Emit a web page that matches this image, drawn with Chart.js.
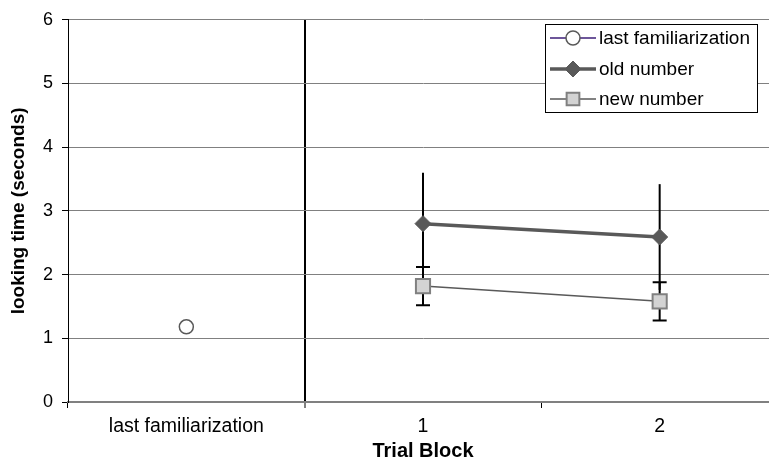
<!DOCTYPE html>
<html>
<head>
<meta charset="utf-8">
<script src="https://cdn.jsdelivr.net/npm/chart.js@4"></script>
<style>
  html, body { margin: 0; padding: 0; background: #fff; overflow: hidden; }
  #wrap { width: 790px; height: 461px; }
</style>
</head>
<body>
<div id="wrap"><canvas id="chart"></canvas></div>
<script>
const categories = ['last familiarization', '1', '2'];
const familiarization = [1.18, null, null];
const oldNumber = [null, 2.80, 2.59];
const oldNumberErr = [null, 0.80, 0.83];
const newNumber = [null, 1.82, 1.58];
const newNumberErr = [null, 0.30, 0.30];
const yTicks = [0, 1, 2, 3, 4, 5, 6];

const FONT = "'Liberation Sans', Arial, sans-serif";

// error bars, drawn under the markers
const errorBars = {
    id: 'errorBars',
    beforeDatasetsDraw(chart) {
        const ctx = chart.ctx;
        const x = chart.scales.x, y = chart.scales.y;
        const sets = [
            {values: oldNumber, errs: oldNumberErr, cap: 0},
            {values: newNumber, errs: newNumberErr, cap: 7}
        ];
        ctx.save();
        ctx.strokeStyle = '#000';
        ctx.lineWidth = 2;
        sets.forEach(s => {
            s.values.forEach((v, i) => {
                if (v == null) return;
                const px = x.getPixelForValue(i);
                const top = y.getPixelForValue(v + s.errs[i]);
                const bot = y.getPixelForValue(v - s.errs[i]);
                ctx.beginPath();
                ctx.moveTo(px, top);
                ctx.lineTo(px, bot);
                if (s.cap) {
                    ctx.moveTo(px - s.cap, top);
                    ctx.lineTo(px + s.cap, top);
                    ctx.moveTo(px - s.cap, bot);
                    ctx.lineTo(px + s.cap, bot);
                }
                ctx.stroke();
            });
        });
        ctx.restore();
    }
};

// boxed legend inside the plot area
const boxLegend = {
    id: 'boxLegend',
    afterDraw(chart) {
        const ctx = chart.ctx;
        const bx = 545, by = 24, bw = 212, bh = 88;
        ctx.save();
        ctx.fillStyle = '#fff';
        ctx.fillRect(bx, by, bw, bh);
        ctx.strokeStyle = '#000';
        ctx.lineWidth = 1;
        ctx.strokeRect(bx + 0.5, by + 0.5, bw, bh);
        ctx.font = '19px ' + FONT;
        ctx.textBaseline = 'middle';
        const rows = [38, 69, 99];
        chart.data.datasets.forEach((ds, i) => {
            const ly = rows[i];
            ctx.strokeStyle = ds.legendLine || ds.borderColor;
            ctx.lineWidth = ds.borderWidth;
            ctx.beginPath();
            ctx.moveTo(550, ly);
            ctx.lineTo(596, ly);
            ctx.stroke();
            ctx.fillStyle = ds.pointBackgroundColor;
            ctx.strokeStyle = ds.pointBorderColor;
            ctx.lineWidth = ds.pointBorderWidth;
            Chart.helpers.drawPoint(ctx, {
                pointStyle: ds.pointStyle,
                radius: ds.legendRadius || ds.pointRadius,
                borderWidth: ds.pointBorderWidth
            }, 573, ly);
            ctx.fillStyle = '#000';
            ctx.fillText(ds.label, 599, ly + 1);
        });
        ctx.restore();
    }
};

new Chart(document.getElementById('chart'), {
    type: 'line',
    data: {
        labels: categories,
        datasets: [
            {
                label: 'last familiarization',
                data: familiarization,
                borderColor: '#595959',
                legendLine: '#3c1e78',
                borderWidth: 1.5,
                pointStyle: 'circle',
                pointRadius: 7,
                pointBorderWidth: 1.5,
                pointBackgroundColor: '#fff',
                pointBorderColor: '#595959'
            },
            {
                label: 'old number',
                data: oldNumber,
                borderColor: '#595959',
                borderWidth: 3.5,
                pointStyle: 'rectRot',
                pointRadius: 8,
                pointBorderWidth: 1,
                pointBackgroundColor: '#595959',
                pointBorderColor: '#595959'
            },
            {
                label: 'new number',
                data: newNumber,
                borderColor: '#595959',
                borderWidth: 1.5,
                pointStyle: 'rect',
                pointRadius: 10,
                legendRadius: 9,
                pointBorderWidth: 2,
                pointBackgroundColor: '#d3d3d3',
                pointBorderColor: '#808080'
            }
        ]
    },
    options: {
        responsive: true,
        maintainAspectRatio: false,
        animation: false,
        layout: {padding: {top: 18, right: 10, left: 0, bottom: 0}},
        plugins: {
            legend: {display: false},
            tooltip: {enabled: false}
        },
        scales: {
            x: {
                offset: true,
                afterFit: s => { s.height = 59; },
                grid: {
                    offset: true,
                    color: c => c.index === 1 ? '#000' : 'rgba(0,0,0,0)',
                    lineWidth: c => c.index === 1 ? 2 : 1,
                    tickColor: '#000',
                    tickLength: 6,
                    tickWidth: 1
                },
                border: {color: '#808080', width: 2},
                ticks: {color: '#000', font: {family: FONT, size: 19.5}, padding: 7, maxRotation: 0},
                title: {display: true, text: 'Trial Block', color: '#000',
                    font: {family: FONT, size: 20, weight: 'bold', lineHeight: 1}, padding: {top: 0, bottom: 0}}
            },
            y: {
                min: 0,
                max: 6,
                afterFit: s => { s.width = 68; },
                afterBuildTicks: s => { s.ticks = yTicks.map(v => ({value: v})); },
                grid: {color: '#808080', lineWidth: 1, tickColor: '#000', tickLength: 6},
                border: {color: '#000', width: 1},
                ticks: {color: '#000', font: {family: FONT, size: 18}, padding: 9},
                title: {display: true, text: 'looking time (seconds)', color: '#000',
                    font: {family: FONT, size: 19, weight: 'bold'}, padding: {top: 7, bottom: 0}}
            }
        }
    },
    plugins: [errorBars, boxLegend]
});
</script>
</body>
</html>
